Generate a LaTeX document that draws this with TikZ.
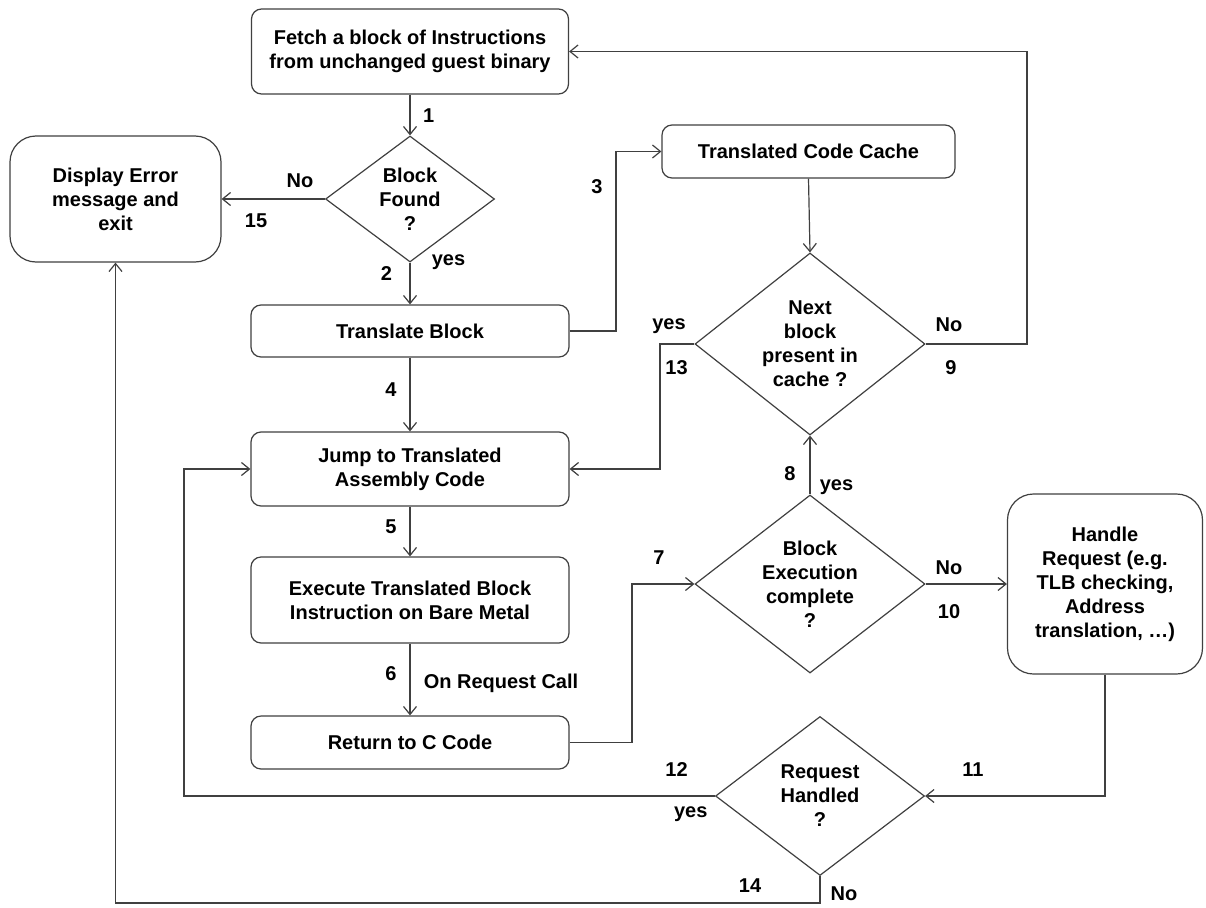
\documentclass[tikz,border=0pt]{standalone}
\usepackage{fontspec}
\setmainfont{Liberation Sans}
\usetikzlibrary{shapes.geometric,arrows.meta}
\definecolor{linegray}{HTML}{404040}
\tikzset{
  every node/.style={font=\fontsize{20}{24}\selectfont\bfseries},
  box/.style={draw=linegray, line width=1.2pt, rounded corners=10pt, align=center, inner sep=0pt},
  bigbox/.style={box, rounded corners=26pt},
  decision/.style={draw=linegray, line width=1.2pt, diamond, inner sep=0pt},
  lbl/.style={inner sep=0pt, align=center},
  arr/.style={draw=linegray, line width=1.2pt, -{Straight Barb[length=8pt,width=13pt]}}
}
\begin{document}
\begin{tikzpicture}[x=1pt,y=-1pt]
\path[use as bounding box, fill=white] (0,0) rectangle (1206,907);

% boxes
\node[box, minimum width=317pt, minimum height=85pt] (fetch) at (410,51.5) {Fetch a block of Instructions\\from unchanged guest binary};
\node[decision, minimum width=169pt, minimum height=126pt, label={[lbl]center:Block\\Found\\?}] (bf) at (410,199) {};
\node[bigbox, minimum width=211pt, minimum height=126pt] (err) at (115.5,199) {Display Error\\message and\\exit};
\node[box, minimum width=318pt, minimum height=52pt] (tb) at (410,331) {Translate Block};
\node[box, minimum width=293pt, minimum height=53pt] (cache) at (808.5,151.5) {Translated Code Cache};
\node[decision, minimum width=230pt, minimum height=182pt, label={[lbl]center:Next\\block\\present in\\cache ?}] (nb) at (810,344) {};
\node[box, minimum width=318pt, minimum height=74pt] (jump) at (410,469) {Jump to Translated\\Assembly Code};
\node[box, minimum width=318pt, minimum height=86pt] (exec) at (410,600) {Execute Translated Block\\Instruction on Bare Metal};
\node[box, minimum width=318pt, minimum height=53pt] (ret) at (410,742.5) {Return to C Code};
\node[decision, minimum width=230pt, minimum height=178pt, label={[lbl]center:Block\\Execution\\complete\\?}] (be) at (810,584) {};
\node[bigbox, minimum width=195pt, minimum height=180pt] (hr) at (1105,584) {Handle\\Request (e.g.\\TLB checking,\\Address\\translation, \dots)};
\node[decision, minimum width=209pt, minimum height=159pt, label={[lbl]center:Request\\Handled\\?}] (rh) at (820,796) {};

% bend coordinates
\coordinate (c3) at (616,0);
\coordinate (c9) at (1027,0);
\coordinate (c13) at (660,0);
\coordinate (c7) at (632,0);
\coordinate (c12) at (184,0);
\coordinate (c14) at (0,903);

% connectors
\draw[arr] (fetch.south) -- (bf.north);
\draw[arr] (bf.south) -- (tb.north);
\draw[arr] (bf.west) -- (err.east);
\draw[arr] (tb.east) -- (tb.east -| c3) |- (cache.west);
\draw[arr] (tb.south) -- (jump.north);
\draw[arr] (cache.south) -- (nb.north);
\draw[arr] (nb.east) -- (nb.east -| c9) |- (fetch.east);
\draw[arr] (nb.west) -- (nb.west -| c13) |- (jump.east);
\draw[arr] (jump.south) -- (exec.north);
\draw[arr] (exec.south) -- (ret.north);
\draw[arr] (ret.east) -- (ret.east -| c7) |- (be.west);
\draw[arr] (be.north) -- (nb.south);
\draw[arr] (be.east) -- (hr.west);
\draw[arr] (hr.south) |- (rh.east);
\draw[arr] (rh.west) -- (rh.west -| c12) |- (jump.west);
\draw[arr] (rh.south) -- (rh.south |- c14) -| (err.south);

% labels
\node[lbl] (n1) at (428.6,116) {1};
\node[lbl] (n2) at (386.5,274) {2};
\node[lbl] (y2) at (448.5,262) {yes};
\node[lbl] (no15) at (300,181) {No};
\node[lbl] (n15) at (256,221) {15};
\node[lbl] (n3) at (597,187) {3};
\node[lbl] (n4) at (391,390) {4};
\node[lbl] (no9) at (949,325) {No};
\node[lbl] (n9) at (951,368) {9};
\node[lbl] (y13) at (669,326) {yes};
\node[lbl] (n13) at (676.5,368) {13};
\node[lbl] (n5) at (391,527) {5};
\node[lbl] (n6) at (391,674) {6};
\node[lbl] (orc) at (501,683) {On Request Call};
\node[lbl] (n7) at (659,558) {7};
\node[lbl] (n8) at (790,474) {8};
\node[lbl] (y8) at (836.5,487) {yes};
\node[lbl] (no10) at (949,568) {No};
\node[lbl] (n10) at (949,612) {10};
\node[lbl] (n11) at (973,770) {11};
\node[lbl] (n12) at (676.5,770) {12};
\node[lbl] (y12) at (690.7,814) {yes};
\node[lbl] (n14) at (750,886) {14};
\node[lbl] (no14) at (844,894) {No};
\end{tikzpicture}
\end{document}
